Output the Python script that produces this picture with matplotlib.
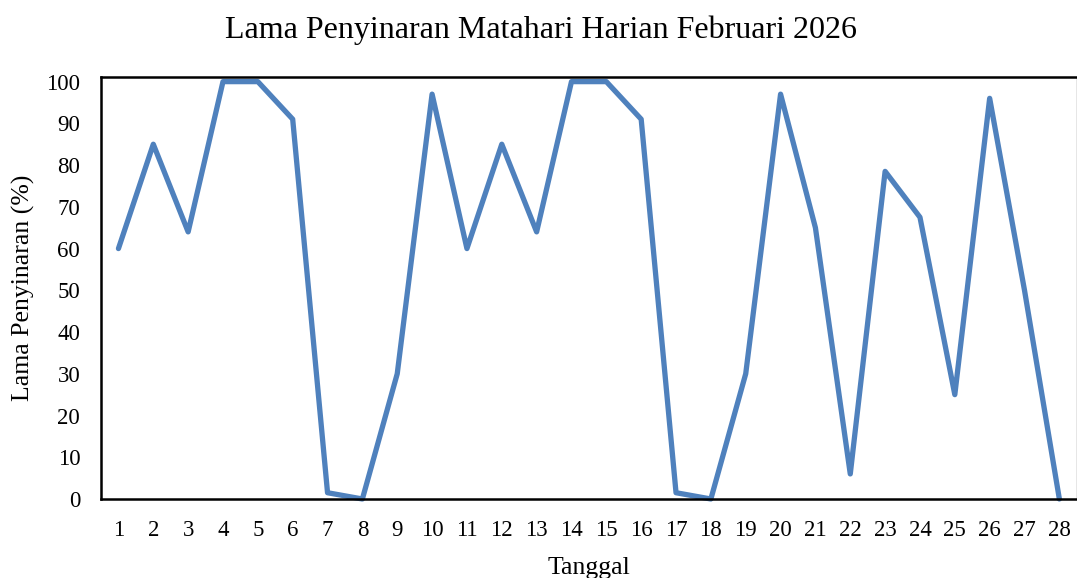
import matplotlib
matplotlib.use("Agg")
import matplotlib.pyplot as plt

days = list(range(1, 29))
sunshine = [60, 85, 64, 100, 100, 91, 1.5, 0, 30, 97, 60, 85, 64, 100, 100, 91,
            1.5, 0, 30, 97, 65, 6, 78.5, 67.5, 25, 96, 50, 0]
yticks = [0, 10, 20, 30, 40, 50, 60, 70, 80, 90, 100]

plt.rcParams['font.family'] = ['Liberation Serif', 'DejaVu Serif']

fig = plt.figure(figsize=(10.77, 5.78), dpi=100)
ax = fig.add_axes([0.0938, 0.1367, 0.906, 0.7293])

ax.plot(days, sunshine, color='#4F81BD', linewidth=3.8,
        solid_joinstyle='round', solid_capstyle='round', clip_on=False)

ax.set_xlim(0.5, 28.5)
ax.set_ylim(0, 101)
ax.set_xticks(days)
ax.set_xticklabels([str(d) for d in days])
ax.set_yticks(yticks)
ax.tick_params(axis='both', length=0, labelsize=16.5)
ax.tick_params(axis='y', pad=15)
ax.tick_params(axis='x', pad=15)

for s in ['left', 'bottom', 'top']:
    ax.spines[s].set_color('black')
    ax.spines[s].set_linewidth(1.8)
ax.spines['right'].set_color('#808080')
ax.spines['right'].set_linewidth(1.0)

fig.text(0.502, 0.948, 'Lama Penyinaran Matahari Harian Februari 2026',
         fontsize=23, ha='center', va='center')
ax.set_xlabel('Tanggal', fontsize=18.5, labelpad=12)
ax.set_ylabel('Lama Penyinaran (%)', fontsize=18.5, labelpad=8)

fig.savefig('out.png', dpi=100)
